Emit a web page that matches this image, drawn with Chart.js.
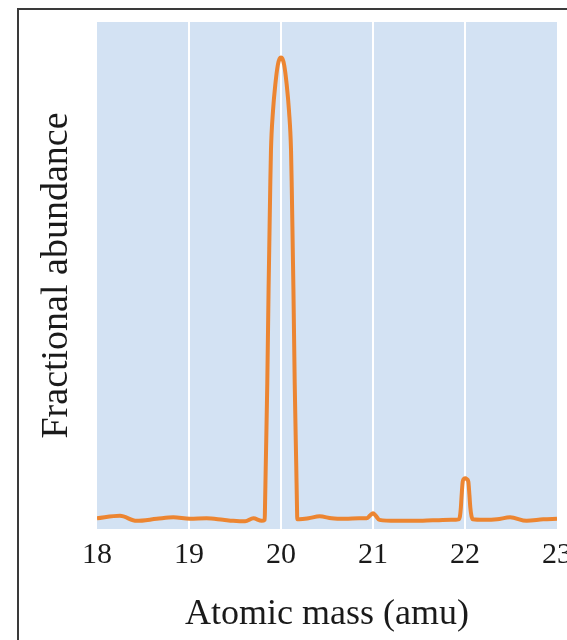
<!DOCTYPE html>
<html>
<head>
<meta charset="utf-8">
<script src="https://cdn.jsdelivr.net/npm/chart.js@4"></script>
<style>
  html, body { margin: 0; padding: 0; background: #fff; overflow: hidden; width: 567px; height: 640px; }
  #chart { position: absolute; left: 0; top: 0; }
  #frame { position: absolute; left: 17px; top: 8px; width: 700px; height: 800px;
           border: 2px solid #3a3a3a; pointer-events: none; }
</style>
</head>
<body>
<canvas id="chart" width="600" height="640"></canvas>
<div id="frame"></div>
<script>
// === DATA ===
const masses = [
  18.00, 18.25, 18.43, 18.65, 18.83, 19.01, 19.19, 19.37, 19.48, 19.61, 19.70, 19.79,
  19.823, 19.826, 19.834, 19.851, 19.865, 19.872, 19.883, 19.891, 19.913, 19.940, 19.965, 19.985,
  20.000,
  20.015, 20.035, 20.060, 20.087, 20.109, 20.117, 20.128, 20.135, 20.149, 20.166, 20.174, 20.177,
  20.20, 20.30, 20.42, 20.55, 20.70, 20.85, 20.93, 20.97, 21.00, 21.03, 21.07,
  21.25, 21.45, 21.65, 21.85, 21.93,
  21.945, 21.955, 21.962, 21.975, 21.99, 22.005, 22.02, 22.036, 22.048, 22.058, 22.07, 22.085,
  22.20, 22.35, 22.49, 22.67, 22.85, 23.00
];
const abundance = [
  -0.001, 0.004, -0.006, -0.002, 0.001, -0.002, -0.001, -0.004, -0.006, -0.007, -0.001, -0.006,
  -0.004, 0.02, 0.10, 0.265, 0.45, 0.527, 0.65, 0.723, 0.80, 0.855, 0.89, 0.903,
  0.905,
  0.903, 0.89, 0.855, 0.80, 0.723, 0.65, 0.527, 0.45, 0.265, 0.10, 0.02, -0.003,
  -0.003, -0.001, 0.003, -0.001, -0.002, -0.001, -0.001, 0.005, 0.009, 0.004, -0.004,
  -0.006, -0.006, -0.005, -0.004, -0.003,
  0.003, 0.02, 0.04, 0.071, 0.077, 0.078, 0.076, 0.071, 0.045, 0.02, 0.004, -0.003,
  -0.004, -0.003, 0.001, -0.006, -0.003, -0.002
];
const xTicks = [18, 19, 20, 21, 22, 23];
const xTitle = "Atomic mass (amu)";
const yTitle = "Fractional abundance";

// === PLOT BACKGROUND ===
const plotBackground = {
  id: "plotBackground",
  beforeDraw(chart) {
    const { ctx, chartArea: a } = chart;
    ctx.save();
    ctx.fillStyle = "#d3e2f3";
    ctx.fillRect(a.left, a.top, a.right - a.left, a.bottom - a.top);
    ctx.restore();
  }
};

const serif = "'Liberation Serif', 'Times New Roman', serif";

new Chart(document.getElementById("chart"), {
  type: "line",
  data: {
    datasets: [{
      data: masses.map((m, i) => ({ x: m, y: abundance[i] })),
      borderColor: "#ec8531",
      borderWidth: 4,
      pointRadius: 0,
      fill: false,
      cubicInterpolationMode: "monotone"
    }]
  },
  options: {
    responsive: false,
    animation: false,
    layout: { padding: { left: 0, top: 22, right: 43, bottom: 0 } },
    plugins: { legend: { display: false }, tooltip: { enabled: false } },
    scales: {
      x: {
        type: "linear",
        min: 18,
        max: 23,
        afterBuildTicks: scale => { scale.ticks = xTicks.map(v => ({ value: v })); },
        afterFit: scale => { scale.height = 111; },
        border: { display: false },
        grid: {
          drawTicks: false,
          lineWidth: 2,
          color: c => (c.tick && (c.tick.value === 18 || c.tick.value === 23)) ? "rgba(0,0,0,0)" : "#ffffff"
        },
        ticks: {
          padding: 8,
          maxRotation: 0,
          autoSkip: false,
          color: "#1a1a1a",
          font: { family: serif, size: 30 }
        },
        title: {
          display: true,
          text: xTitle,
          color: "#1a1a1a",
          font: { family: serif, size: 36 },
          padding: { top: 0, bottom: 4 }
        }
      },
      y: {
        min: -0.022,
        max: 0.975,
        afterFit: scale => { scale.width = 97; },
        border: { display: false },
        grid: { display: false },
        ticks: { display: false },
        title: {
          display: true,
          text: yTitle,
          color: "#1a1a1a",
          font: { family: serif, size: 38 },
          padding: { top: 34, bottom: 0 }
        }
      }
    }
  },
  plugins: [plotBackground]
});
</script>
</body>
</html>
